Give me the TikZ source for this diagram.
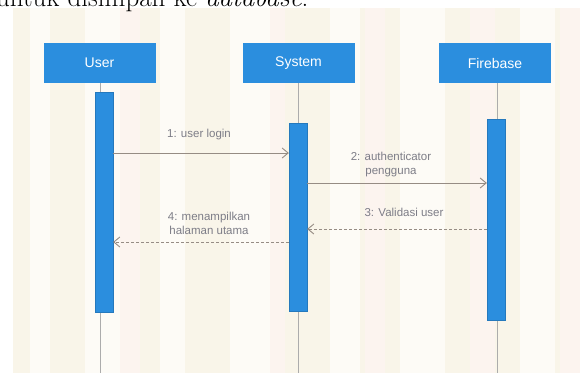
\documentclass[tikz,border=0pt]{standalone}
\usepackage{fontspec}
\newfontfamily\diagfont{Liberation Sans}
\usetikzlibrary{arrows.meta}
\definecolor{umlblue}{RGB}{43,142,222}
\definecolor{paper}{RGB}{249,245,233}
\definecolor{stripe}{RGB}{253,251,246}
\definecolor{pinkish}{RGB}{252,244,239}
\definecolor{msggray}{RGB}{150,140,132}
\definecolor{txtgray}{RGB}{125,125,135}
\definecolor{lifegray}{RGB}{172,172,172}
\tikzset{
	head/.style = {fill=umlblue, text=white, font=\diagfont\fontsize{14}{16}\selectfont, minimum width=112pt, minimum height=40pt, inner sep=0pt},
	actbar/.style = {fill=umlblue, draw=umlblue!85!black, line width=0.3pt, minimum width=18pt, inner sep=0pt},
	life/.style = {draw=lifegray, line width=0.9pt},
	msg/.style = {draw=msggray, line width=0.9pt, -{Straight Barb[length=6pt,width=10pt]}},
	reply/.style = {msg, dash pattern=on 3pt off 2pt},
	lbl/.style = {text=txtgray, font=\diagfont\fontsize{11.5}{14}\selectfont, align=center, inner sep=0pt}
}
\begin{document}
\begin{tikzpicture}[x=1pt, y=-1pt]
	\useasboundingbox (0,0) rectangle (580,373);
	\fill[paper] (13,8) rectangle (580,373);
	\foreach \x/\w in {30/20, 85/35, 160/25, 230/40, 330/30, 400/45, 520/35}
		\fill[stripe] (\x,8) rectangle ++(\w,365);
	\foreach \x/\w in {120/20, 270/15, 365/20, 470/25, 560/20}
		\fill[pinkish] (\x,8) rectangle ++(\w,365);
	\node[anchor=base west, inner sep=0pt, font=\fontsize{27}{30}\selectfont] (intro) at (-4,6) {untuk disimpan ke \textit{database}.};

	\coordinate (bottom) at (0,373);
	\node[head] (user) at (99.5,63) {User};
	\node[head] (sys) at (298.5,63) {System};
	\node[head] (fb) at (495,63) {Firebase};

	\draw[life] (user.south) ++(1,0) -- ([xshift=1pt]user.south |- bottom);
	\draw[life] (sys.south) -- (sys.south |- bottom);
	\draw[life] (fb.south) ++(2,0) -- ([xshift=2pt]fb.south |- bottom);

	\node[actbar, minimum height=220pt] (userbar) at (104,202) {};
	\node[actbar, minimum height=188pt] (sysbar) at (298,217) {};
	\node[actbar, minimum height=201pt] (fbbar) at (496,219.5) {};

	\coordinate (y1) at (0,153);
	\coordinate (y2) at (0,183);
	\coordinate (y3) at (0,229);
	\coordinate (y4) at (0,242);

	\draw[msg] (userbar.east |- y1) -- (sysbar.west |- y1);
	\node[lbl] (m1) at (199,135) {1: user login};

	\draw[msg] (sysbar.east |- y2) -- (fbbar.west |- y2);
	\node[lbl] (m2) at (391,164.5) {2: authenticator\\pengguna};

	\draw[reply] (fbbar.west |- y3) -- (sysbar.east |- y3);
	\node[lbl] (m3) at (404,212) {3: Validasi user};

	\draw[reply] (sysbar.west |- y4) -- (userbar.east |- y4);
	\node[lbl] (m4) at (209,223) {4: menampilkan\\halaman utama};
\end{tikzpicture}
\end{document}
